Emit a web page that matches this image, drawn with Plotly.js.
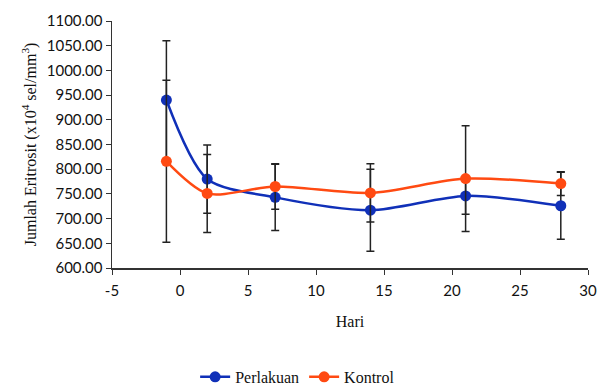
<!DOCTYPE html>
<html>
<head>
<meta charset="utf-8">
<script src="https://cdn.plot.ly/plotly-3.0.1.min.js"></script>
<style>html,body{margin:0;padding:0;background:#fff;}#chart{width:603px;height:385px;}</style>
</head>
<body>
<div id="chart"></div>
<script>
const hari = [-1, 2, 7, 14, 21, 28];
const perlakuan = [940, 780, 743, 717, 746, 726];
const perlakuanErr = [120, 69, 67, 83, 37, 68];
const kontrol = [816, 751, 765, 752, 781, 771];
const kontrolErr = [164, 79, 46, 59, 107, 24];
const yTicks = [600, 650, 700, 750, 800, 850, 900, 950, 1000, 1050, 1100];
const xTicks = [-5, 0, 5, 10, 15, 20, 25, 30];

const blue = '#1030b8';
const orange = '#ff4a12';

function series(name, y, err, color) {
  return {
    type: 'scatter', mode: 'lines+markers', name: name,
    x: hari, y: y,
    line: {color: color, width: 2.5, shape: 'spline', smoothing: 0.8},
    marker: {color: color, size: 11},
    error_y: {type: 'data', array: err, visible: true, color: '#222', thickness: 1.5, width: 4}
  };
}

const data = [
  series('Perlakuan', perlakuan, perlakuanErr, blue),
  series('Kontrol', kontrol, kontrolErr, orange)
];

const layout = {
  width: 603, height: 385,
  margin: {l: 112, r: 15, t: 21, b: 117, autoexpand: false},
  paper_bgcolor: '#fff', plot_bgcolor: '#fff',
  showlegend: true,
  legend: {orientation: 'h', xref: 'paper', x: 0.39, xanchor: 'center', yref: 'container', y: 0.021, yanchor: 'middle',
           itemwidth: 30, tracegroupgap: 0,
           font: {family: 'Liberation Serif, serif', size: 16, color: '#111'}},
  xaxis: {
    range: [-5, 30], tickvals: xTicks, ticktext: xTicks.map(String), automargin: false,
    showgrid: false, zeroline: false, showline: true, linecolor: '#333', linewidth: 1.5,
    ticks: 'outside', ticklen: 5, tickcolor: '#333', ticklabelstandoff: 3,
    tickfont: {family: 'Lato, sans-serif', size: 15, color: '#111'},
    title: {text: 'Hari', font: {family: 'Liberation Serif, serif', size: 16, color: '#111'}, standoff: 18}
  },
  yaxis: {
    range: [600, 1100], tickvals: yTicks, ticktext: yTicks.map(v => v.toFixed(2)), automargin: false,
    showgrid: false, zeroline: false, showline: true, linecolor: '#333', linewidth: 1.5,
    ticks: 'outside', ticklen: 5, tickcolor: '#333',
    tickfont: {family: 'Lato, sans-serif', size: 15, color: '#111'},
    title: {text: 'Jumlah Eritrosit (x10<sup>4</sup> sel/mm<sup>3</sup>)', font: {family: 'Liberation Serif, serif', size: 16, color: '#111'}, standoff: 6}
  }
};

Plotly.newPlot('chart', data, layout, {displayModeBar: false, staticPlot: true});
</script>
</body>
</html>
